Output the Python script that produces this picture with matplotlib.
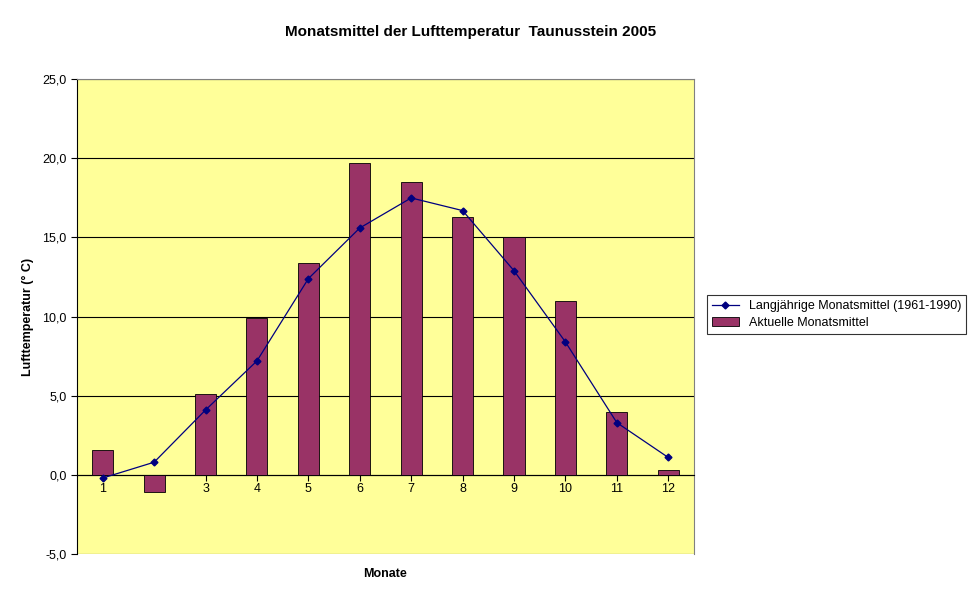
import matplotlib
matplotlib.use("Agg")
import matplotlib.pyplot as plt
from matplotlib.ticker import FuncFormatter

plt.rcParams["font.family"] = "Liberation Sans"

# ── Data ──────────────────────────────────────────────────────────────────────
months = ["1", "2", "3", "4", "5", "6", "7", "8", "9", "10", "11", "12"]
actual_2005 = [1.6, -1.1, 5.1, 9.9, 13.4, 19.7, 18.5, 16.3, 15.0, 11.0, 4.0, 0.3]
longterm_mean = [-0.2, 0.8, 4.1, 7.2, 12.4, 15.6, 17.5, 16.7, 12.9, 8.4, 3.3, 1.1]

fig = plt.figure(figsize=(9.7, 6.04), dpi=100)
ax = fig.add_axes([0.0794, 0.0828, 0.636, 0.786])
ax.set_facecolor("#FFFF99")

x = list(range(len(months)))
ax.bar(x, actual_2005, width=0.41, color="#993366", edgecolor="black",
       linewidth=0.6, label="Aktuelle Monatsmittel", zorder=3)
ax.plot(x, longterm_mean, color="#000080", linewidth=0.9, marker="D",
        markersize=3.5, label="Langjährige Monatsmittel (1961-1990)", zorder=4)

ax.set_xlim(-0.5, len(months) - 0.5)
ax.set_ylim(-5, 25)
ax.set_yticks(range(-5, 26, 5))
ax.yaxis.set_major_formatter(FuncFormatter(lambda v, p: f"{v:.1f}".replace(".", ",")))
ax.grid(axis="y", color="black", linewidth=0.8, zorder=0)
ax.tick_params(axis="y", labelsize=9, length=4, direction="out")

# category axis sits on the zero line
ax.set_xticks(x)
ax.set_xticklabels(months)
ax.spines["bottom"].set_position(("data", 0))
ax.tick_params(axis="x", labelsize=9, length=4, direction="out", pad=2)
for s in ["top", "right"]:
    ax.spines[s].set_color("gray")
ax.spines["left"].set_color("black")

ax.set_ylabel("Lufttemperatur (° C)", fontsize=9, fontweight="bold", labelpad=6)
fig.text(0.397, 0.045, "Monate", fontsize=9, fontweight="bold", ha="center")
fig.text(0.485, 0.94, "Monatsmittel der Lufttemperatur  Taunusstein 2005",
         fontsize=11, fontweight="bold", ha="center")

leg = fig.legend(loc="center left", bbox_to_anchor=(0.722, 0.479), fontsize=9,
                 frameon=True, fancybox=False, edgecolor="black",
                 borderpad=0.4, handlelength=2.2, labelspacing=0.4)
leg.get_frame().set_linewidth(0.8)

fig.savefig("out.png", dpi=100)
